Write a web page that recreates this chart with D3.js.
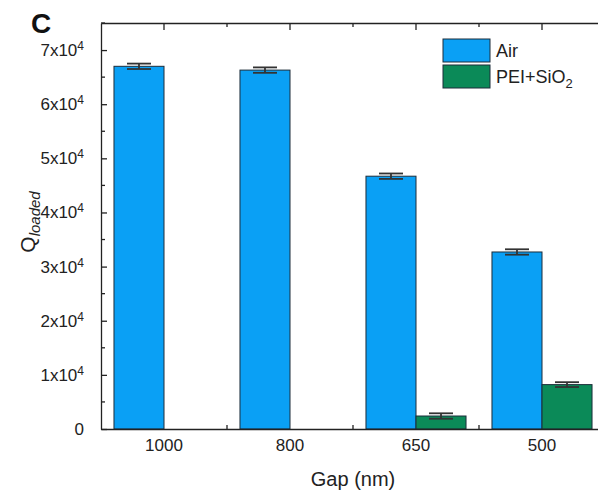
<!DOCTYPE html>
<head>
    <meta charset="utf-8">
    <title>Q loaded vs gap</title>
    <style>
        body { margin: 0; background: #fff; }
        svg { font-family: Arial, "Liberation Sans", sans-serif; }
        .tick text { fill: #222; }
        .domain, .tick line { stroke: #222; stroke-width: 1.3px; }
    </style>
</head>
<body>
<svg width="598" height="493"></svg>
<script src="https://d3js.org/d3.v7.min.js"></script>
<script>

var gaps = ["1000", "800", "650", "500"];
var seriesNames = ["Air", "PEI+SiO2"];
var airValues = [67000, 66300, 46700, 32700];
var airErrors = [500, 500, 500, 500];
var peiValues = [null, null, 2400, 8200];
var peiErrors = [null, null, 500, 450];
var yTicks = [0, 10000, 20000, 30000, 40000, 50000, 60000, 70000];

var colors = ["#0aa0f5", "#0b8a58"];

var svg = d3.select("svg"),
    pLeft = 101, pRight = 605, pTop = 23, pBottom = 429;

var x = d3.scaleBand().domain(gaps).range([pLeft, pRight]).paddingInner(0.206).paddingOuter(0.103);
var xs = d3.scaleBand().domain(seriesNames).range([0, x.bandwidth()]);
var y = d3.scaleLinear().domain([0, 75000]).range([pBottom, pTop]);

var rows = gaps.map(function(g, i) {
    return [
        { gap: g, s: seriesNames[0], v: airValues[i], e: airErrors[i], c: colors[0] },
        { gap: g, s: seriesNames[1], v: peiValues[i], e: peiErrors[i], c: colors[1] }
    ];
});
var bars = [].concat.apply([], rows).filter(function(d) { return d.v != null; });

// bars
svg.append("g").selectAll("rect")
    .data(bars)
    .enter().append("rect")
    .attr("x", function(d) { return x(d.gap) + xs(d.s); })
    .attr("y", function(d) { return y(d.v); })
    .attr("width", xs.bandwidth())
    .attr("height", function(d) { return y(0) - y(d.v); })
    .attr("fill", function(d) { return d.c; })
    .attr("stroke", "#1c2d3a")
    .attr("stroke-width", 1);

// error bars
var eb = svg.append("g").selectAll("g")
    .data(bars)
    .enter().append("g")
    .attr("stroke", "#333")
    .attr("stroke-width", 1.8);
eb.append("line")
    .attr("x1", function(d) { return x(d.gap) + xs(d.s) + xs.bandwidth() / 2; })
    .attr("x2", function(d) { return x(d.gap) + xs(d.s) + xs.bandwidth() / 2; })
    .attr("y1", function(d) { return y(d.v + d.e); })
    .attr("y2", function(d) { return y(d.v - d.e); });
eb.selectAll(".cap")
    .data(function(d) { return [d.v + d.e, d.v - d.e].map(function(v) { return { d: d, v: v }; }); })
    .enter().append("line")
    .attr("x1", function(o) { return x(o.d.gap) + xs(o.d.s) + xs.bandwidth() / 2 - 12; })
    .attr("x2", function(o) { return x(o.d.gap) + xs(o.d.s) + xs.bandwidth() / 2 + 12; })
    .attr("y1", function(o) { return y(o.v); })
    .attr("y2", function(o) { return y(o.v); });

// axes
var minorY = d3.range(5000, 75001, 10000);
var bounds = gaps.map(function(g) { return x(g) - x.step() * x.paddingInner() / 2; }).slice(1);

function yLabels(sel) {
    sel.selectAll(".tick text").each(function(d) {
        var t = d3.select(this).text("");
        if (d === 0) { t.text("0"); return; }
        t.append("tspan").text((d / 10000) + "x10");
        t.append("tspan").attr("dy", "-0.5em").attr("font-size", "12px").text("4");
    });
}

svg.append("g")
    .attr("transform", "translate(" + pLeft + ",0)")
    .call(d3.axisLeft(y).tickValues(yTicks).tickSizeInner(-6).tickSizeOuter(0).tickPadding(17))
    .call(function(g) { g.selectAll(".tick text").attr("font-size", "17px"); })
    .call(yLabels);
svg.append("g").selectAll("line").data(minorY).enter().append("line")
    .attr("x1", pLeft).attr("x2", pLeft + 4)
    .attr("y1", function(d) { return y(d); }).attr("y2", function(d) { return y(d); })
    .attr("stroke", "#222").attr("stroke-width", 1.3);

svg.append("g")
    .attr("transform", "translate(" + pRight + ",0)")
    .call(d3.axisRight(y).tickValues(yTicks).tickSizeInner(-7).tickSizeOuter(0).tickFormat(""));

svg.append("g")
    .attr("transform", "translate(0," + pBottom + ")")
    .call(d3.axisBottom(x).tickSizeInner(0).tickSizeOuter(0).tickPadding(10))
    .call(function(g) { g.selectAll(".tick text").attr("font-size", "17px"); });
svg.append("g")
    .attr("transform", "translate(0," + pTop + ")")
    .call(d3.axisTop(x).tickSizeInner(-7).tickSizeOuter(0).tickFormat(""));

[pBottom, pTop].forEach(function(yy, k) {
    svg.append("g").selectAll("line").data(bounds).enter().append("line")
        .attr("x1", function(d) { return d; }).attr("x2", function(d) { return d; })
        .attr("y1", yy).attr("y2", k === 0 ? yy - 4 : yy + 4)
        .attr("stroke", "#222").attr("stroke-width", 1.3);
});

// titles
svg.append("text")
    .attr("x", 353).attr("y", 486)
    .attr("text-anchor", "middle").attr("font-size", "20px").attr("fill", "#222")
    .text("Gap (nm)");

var yt = svg.append("text")
    .attr("transform", "translate(35," + 222 + ") rotate(-90)")
    .attr("text-anchor", "middle").attr("font-size", "21px").attr("fill", "#222");
yt.append("tspan").text("Q");
yt.append("tspan").attr("dy", "5").attr("font-size", "15px").attr("font-style", "italic").text("loaded");

svg.append("text")
    .attr("x", 31).attr("y", 33)
    .attr("font-size", "28px").attr("font-weight", "bold").attr("fill", "#111")
    .text("C");

// legend
var legend = svg.append("g").selectAll("g")
    .data(seriesNames)
    .enter().append("g")
    .attr("transform", function(d, i) { return "translate(443," + (39 + i * 26) + ")"; });
legend.append("rect")
    .attr("width", 47).attr("height", 23)
    .attr("fill", function(d, i) { return colors[i]; })
    .attr("stroke", "#1c2d3a").attr("stroke-width", 1);
legend.append("text")
    .attr("x", 53).attr("y", 18)
    .attr("font-size", "18px").attr("fill", "#222")
    .each(function(d) {
        var t = d3.select(this);
        if (d === "PEI+SiO2") {
            t.append("tspan").text("PEI+SiO");
            t.append("tspan").attr("dy", "5").attr("font-size", "13px").text("2");
        } else {
            t.text(d);
        }
    });

</script>
</body>
</html>
